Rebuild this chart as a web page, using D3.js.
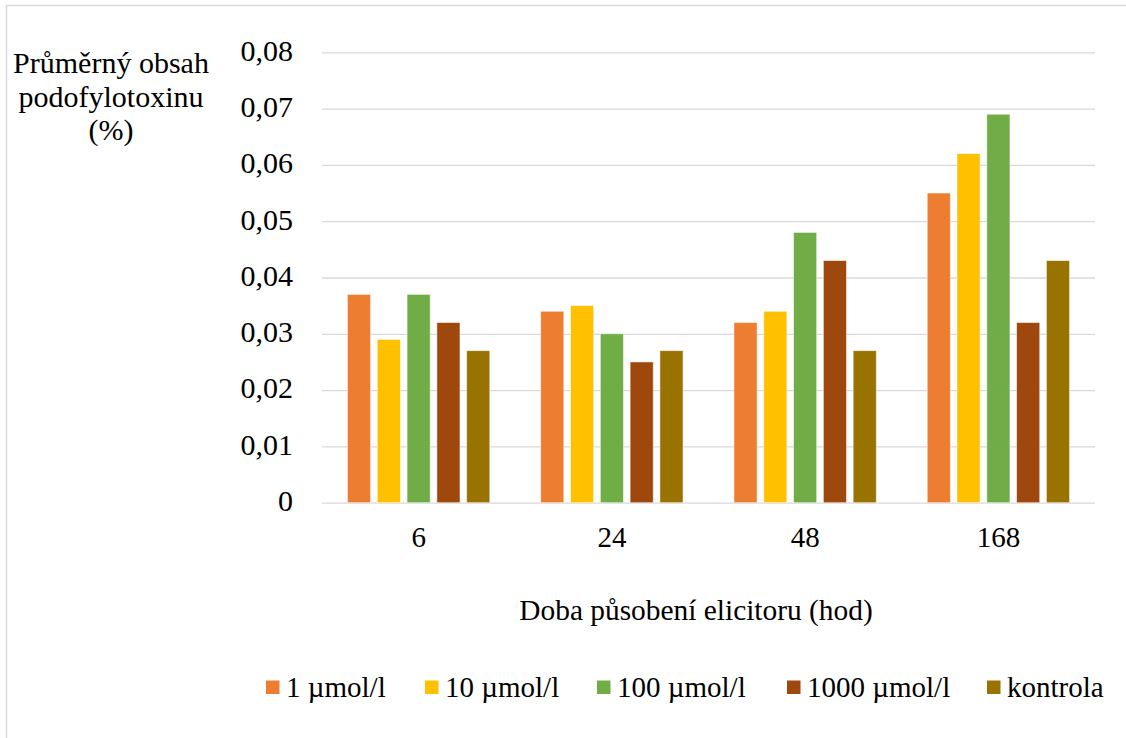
<!DOCTYPE html>
<html>
<head>
<meta charset="utf-8">
<script src="https://cdn.jsdelivr.net/npm/d3@7"></script>
</head>
<body style="margin:0;background:#fff">
<svg id="chart" width="1126" height="738"></svg>
<script>
const categories = ["6", "24", "48", "168"];
const seriesNames = ["1 µmol/l", "10 µmol/l", "100 µmol/l", "1000 µmol/l", "kontrola"];
const seriesColors = ["#ED7D31", "#FFC000", "#70AD47", "#9E480E", "#997300"];
const s1 = [0.037, 0.034, 0.032, 0.055];
const s10 = [0.029, 0.035, 0.034, 0.062];
const s100 = [0.037, 0.030, 0.048, 0.069];
const s1000 = [0.032, 0.025, 0.043, 0.032];
const kontrola = [0.027, 0.027, 0.027, 0.043];
const yTicks = [0, 0.01, 0.02, 0.03, 0.04, 0.05, 0.06, 0.07, 0.08];
const yTitle = ["Průměrný obsah", "podofylotoxinu", "(%)"];
const xTitle = "Doba působení elicitoru (hod)";

const seriesValues = [s1, s10, s100, s1000, kontrola];
const FONT = '"Liberation Serif", monospace';
const svg = d3.select("#chart");

// outer border
svg.append("rect").attr("x", 6.5).attr("y", 5.5).attr("width", 1140).attr("height", 760)
  .attr("fill", "none").attr("stroke", "#d9d9d9").attr("stroke-width", 1.5);

const plot = { left: 322, right: 1095, top: 52.3, bottom: 502.7 };
const y = d3.scaleLinear().domain([0, 0.08]).range([plot.bottom, plot.top]);
const x0 = d3.scaleBand().domain(categories).range([plot.left, plot.right]).padding(0);
const groupW = 142.3;
const x1 = d3.scaleBand().domain(d3.range(seriesNames.length))
  .range([(x0.bandwidth() - groupW) / 2, (x0.bandwidth() + groupW) / 2])
  .paddingInner(0.225).paddingOuter(0);

// gridlines + y tick labels
const yAxis = d3.axisLeft(y).tickValues(yTicks).tickSize(-(plot.right - plot.left))
  .tickFormat(d => d === 0 ? "0" : d3.format(".2f")(d).replace(".", ","));
const gy = svg.append("g").attr("transform", `translate(${plot.left},0)`).call(yAxis);
gy.attr("font-family", null);
gy.select(".domain").remove();
gy.selectAll(".tick line").attr("stroke", "#d9d9d9").attr("stroke-width", 1.3);
gy.selectAll(".tick text").attr("x", -(plot.left - 293)).attr("dy", "0.26em")
  .style("font-family", FONT).style("font-size", "30px").attr("fill", "#000");

// bars
const groups = svg.append("g").selectAll("g").data(categories).join("g")
  .attr("transform", d => `translate(${x0(d)},0)`);
groups.selectAll("rect")
  .data((c, ci) => seriesValues.map((vals, si) => ({ si, v: vals[ci] })))
  .join("rect")
  .attr("x", d => x1(d.si))
  .attr("width", x1.bandwidth())
  .attr("y", d => y(d.v))
  .attr("height", d => y(0) - y(d.v))
  .attr("fill", d => seriesColors[d.si])
  .attr("stroke", "#ffffff").attr("stroke-opacity", 0.6).attr("stroke-width", 0.8);

// x axis labels
const xAxis = d3.axisBottom(x0).tickSize(0).tickPadding(0);
const gx = svg.append("g").attr("transform", `translate(0,${plot.bottom})`).call(xAxis);
gx.attr("font-family", null);
gx.select(".domain").remove();
gx.selectAll(".tick text").attr("y", 44).attr("dy", 0)
  .style("font-family", FONT).style("font-size", "29px").attr("fill", "#000");

// y title
svg.append("text").attr("text-anchor", "middle")
  .style("font-family", FONT).style("font-size", "30px")
  .selectAll("tspan").data(yTitle).join("tspan")
  .attr("x", 111).attr("y", (d, i) => 73 + i * 33.5).text(d => d);

// x title
svg.append("text").attr("x", 696).attr("y", 620).attr("text-anchor", "middle")
  .style("font-family", FONT).style("font-size", "29.4px").text(xTitle);

// legend
const legendX = [266, 425, 597, 787, 987];
const leg = svg.append("g").selectAll("g").data(seriesNames).join("g")
  .attr("transform", (d, i) => `translate(${legendX[i]},0)`);
leg.append("rect").attr("x", 0).attr("y", 680.5).attr("width", 13.5).attr("height", 13.5)
  .attr("fill", (d, i) => seriesColors[i]);
leg.append("text").attr("x", 20).attr("y", 697)
  .style("font-family", FONT).style("font-size", "29px").text(d => d);
</script>
</body>
</html>
